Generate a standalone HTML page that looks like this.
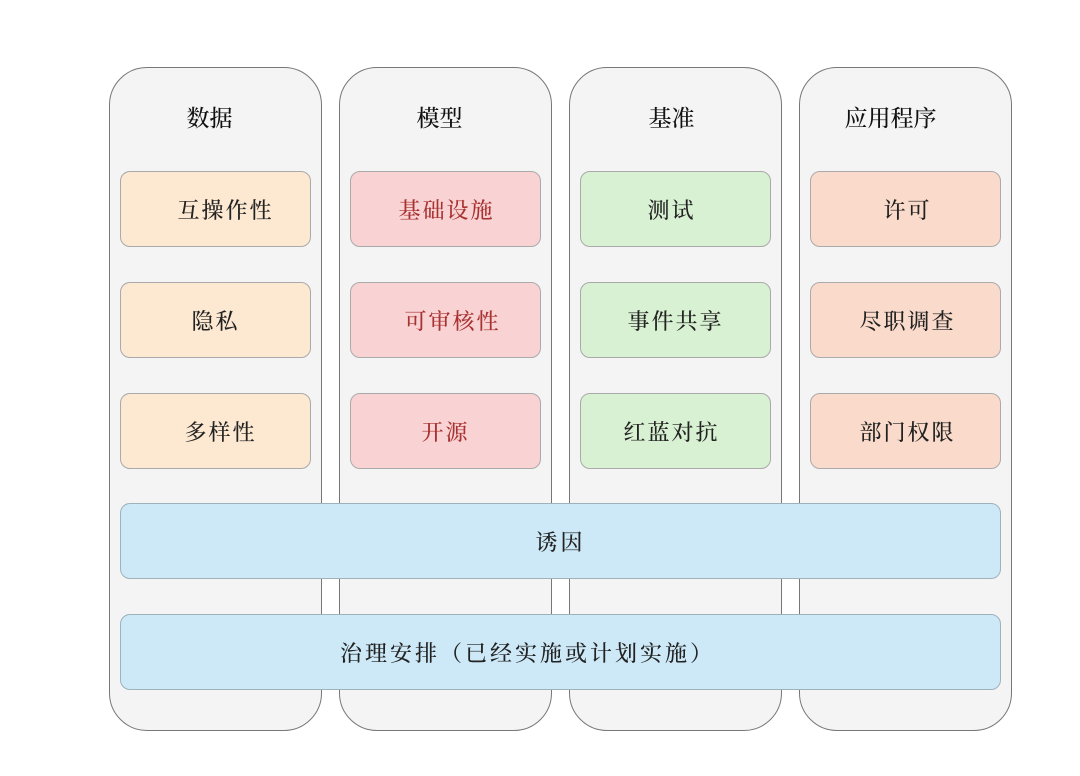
<!DOCTYPE html>
<html><head><meta charset="utf-8"><style>
body{margin:0;width:1080px;height:776px;background:#fff;position:relative;overflow:hidden;font-family:"Liberation Serif","Noto Serif CJK SC",serif;}
.col{position:absolute;top:67px;width:213px;height:664px;border:1.5px solid #777;border-radius:38px;background:#f4f4f4;box-sizing:border-box;}
.h{position:absolute;top:100px;width:211px;text-align:center;font-size:23px;color:#111;font-weight:500;}
.b{position:absolute;width:191px;height:76px;border:1.5px solid #aaa;border-radius:10px;box-sizing:border-box;display:flex;align-items:center;justify-content:center;font-size:22px;color:#222;letter-spacing:2px;font-weight:500;}
.o{background:#fde8d2}.r{background:#f9d3d3;color:#a83232}.g{background:#d8f1d2}.s{background:#fadbcb}
.w{position:absolute;left:120px;width:881px;height:76px;background:#cde9f7;border:1.5px solid #9fb2bc;border-radius:10px;box-sizing:border-box;display:flex;align-items:center;justify-content:center;font-size:22px;color:#222;letter-spacing:3px;font-weight:500;}
</style></head><body>
<div class="col" style="left:109px"></div>
<div class="col" style="left:339px"></div>
<div class="col" style="left:569px"></div>
<div class="col" style="left:799px"></div>
<div class="h" style="left:104px">数据</div>
<div class="h" style="left:334px">模型</div>
<div class="h" style="left:566px">基准</div>
<div class="h" style="left:785px">应用程序</div>

<div class="b o" style="left:120px;top:171px;padding-left:20px">互操作性</div>
<div class="b o" style="left:120px;top:282px">隐私</div>
<div class="b o" style="left:120px;top:393px;padding-left:10px">多样性</div>
<div class="b r" style="left:350px;top:171px;padding-left:2px">基础设施</div>
<div class="b r" style="left:350px;top:282px;padding-left:14px">可审核性</div>
<div class="b r" style="left:350px;top:393px;padding-left:0">开源</div>
<div class="b g" style="left:580px;top:171px;padding-right:8px">测试</div>
<div class="b g" style="left:580px;top:282px">事件共享</div>
<div class="b g" style="left:580px;top:393px;padding-right:8px">红蓝对抗</div>
<div class="b s" style="left:810px;top:171px;padding-left:4px">许可</div>
<div class="b s" style="left:810px;top:282px;padding-left:4px">尽职调查</div>
<div class="b s" style="left:810px;top:393px;padding-left:4px">部门权限</div>

<div class="w" style="top:503px">诱因</div>
<div class="w" style="top:614px;padding-right:66px">治理安排（已经实施或计划实施）</div>
</body></html>
